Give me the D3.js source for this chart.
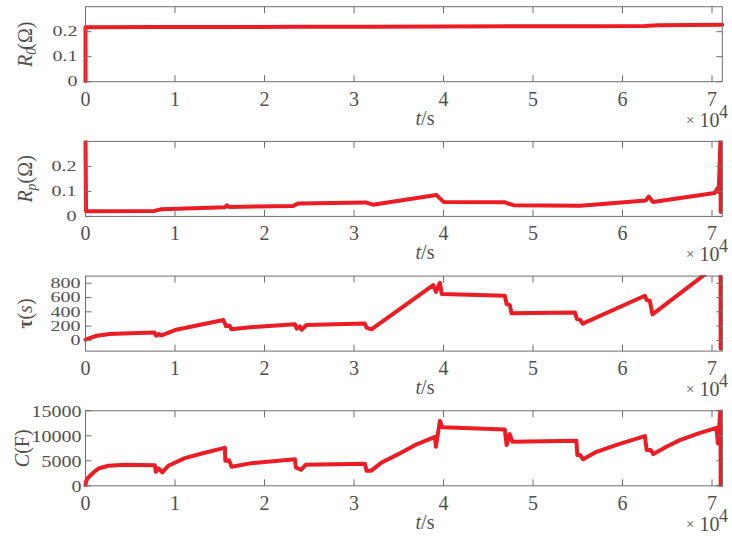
<!DOCTYPE html>
<html>
<head>
<meta charset="utf-8">
<script src="https://cdn.jsdelivr.net/npm/d3@7/dist/d3.min.js"></script>
<style>
  html, body { margin: 0; padding: 0; background: #fff; }
  svg { display: block; }
  text { font-family: "Liberation Serif", "Times New Roman", serif; fill: #505050; }
</style>
</head>
<body>
<svg id="chart" width="732" height="536"></svg>
<script>
// Time axis tick labels (in units of 10^4 s)
const xTickLabels = [0, 1, 2, 3, 4, 5, 6, 7];
const timeMax = 71150;

// Ohmic resistance R0 (Ω)
const r0Time  = [0, 0, 300, 8000, 16000, 24000, 32000, 40000, 48000, 56000, 62500, 64000, 71150];
const r0Value = [0, 0.218, 0.218, 0.2185, 0.219, 0.2195, 0.220, 0.221, 0.2215, 0.222, 0.2225, 0.226, 0.228];
const r0Ticks = [0, 0.1, 0.2];
const r0Domain = [0, 0.3];

// Polarization resistance Rp (Ω)
const rpTime  = [0, 60, 7700, 8500, 15600, 15800, 16100, 23200, 23800, 31300, 32100, 39200, 40000,
                 46800, 47800, 55300, 62600, 62950, 63400, 70300, 70600, 70750, 70950, 70970];
const rpValue = [0.31, 0.021, 0.022, 0.029, 0.037, 0.044, 0.038, 0.042, 0.052, 0.056, 0.047, 0.086, 0.058,
                 0.057, 0.045, 0.043, 0.064, 0.079, 0.058, 0.094, 0.112, 0.098, 0.31, 0.018];
const rpTicks = [0, 0.1, 0.2];
const rpDomain = [0, 0.3];

// Time constant τ (s)
const tauTime  = [0, 300, 1250, 2700, 5000, 7700, 7900, 8200, 8500, 10000, 15400, 15700, 16100, 16300,
                  18400, 23400, 23600, 23950, 24150, 24700, 31200, 31400, 31950, 38850, 39150, 39600, 39800,
                  46850, 47050, 47400, 47600, 54700, 54900, 55250, 55550, 62500, 62700, 63050, 63350,
                  68950, 70950, 70970];
const tauValue = [10, 25, 65, 90, 100, 110, 65, 90, 70, 145, 285, 200, 205, 155,
                  185, 225, 165, 195, 150, 215, 235, 180, 155, 775, 680, 805, 650,
                  625, 510, 495, 380, 390, 300, 290, 235, 625, 565, 555, 365,
                  900, 1090, -115];
const tauTicks = [0, 200, 400, 600, 800];
const tauDomain = [-150, 900];

// Capacitance C (F)
const cTime  = [0, 60, 300, 900, 1450, 2550, 4400, 7750, 7850, 8200, 8580, 9250, 11100, 13000, 15400, 15580,
                15620, 16030, 16330, 18560, 23400, 23500, 24070, 24600, 31230, 31400, 31900, 33100, 34950,
                36800, 39050, 39150, 39600, 39870, 46850, 47050, 47400, 47700, 54850, 54950, 55250, 55600,
                57100, 59500, 62500, 62700, 63150, 63450, 64800, 66400, 68500, 70500, 70650, 70800, 70950, 70970];
const cValue = [0, 900, 1670, 2670, 3470, 4000, 4200, 4130, 2800, 3470, 2670, 4000, 5530, 6470, 7530, 7600,
                5000, 5130, 3800, 4530, 5330, 3670, 3200, 4200, 4400, 3000, 3000, 4670, 6330,
                8130, 9800, 7800, 13000, 11700, 11270, 8140, 10330, 8800, 9000, 6150, 6150, 5300,
                6800, 8300, 9950, 7150, 7150, 6340, 7700, 9140, 10500, 11600, 8470, 11800, 15600, -300];
const cTicks = [0, 5000, 10000, 15000];
const cDomain = [0, 15000];

const svg = d3.select("#chart");
const left = 85.5, right = 722.3;
const panelTop0 = 6.7, panelStep = 134.7, panelH = 75;
const lineColor = "#ec1c24";
const axisColor = "#6e6e6e";
const tickLen = 6.5;

const x = d3.scaleLinear().domain([0, timeMax]).range([left, right]);

function labelR0(t) {
  t.append("tspan").attr("font-style", "italic").text("R");
  t.append("tspan").attr("font-style", "italic").attr("font-size", 14).attr("dy", 4).text("0");
  t.append("tspan").attr("dy", -4).attr("dx", -2).text("(Ω)");
}
function labelRp(t) {
  t.append("tspan").attr("font-style", "italic").text("R");
  t.append("tspan").attr("font-style", "italic").attr("font-size", 14).attr("dy", 4).text("p");
  t.append("tspan").attr("dy", -4).text("(Ω)");
}
function labelTau(t) {
  t.append("tspan").attr("font-weight", "bold").text("τ");
  t.append("tspan").text("(");
  t.append("tspan").attr("font-style", "italic").text("s");
  t.append("tspan").text(")");
}
function labelC(t) {
  t.append("tspan").attr("font-style", "italic").text("C");
  t.append("tspan").text("(F)");
}

const panels = [
  { time: r0Time,  value: r0Value,  domain: r0Domain,  ticks: r0Ticks,  label: labelR0,  labelX: 25, squash: 0.68, gap: 8 },
  { time: rpTime,  value: rpValue,  domain: rpDomain,  ticks: rpTicks,  label: labelRp,  labelX: 25, squash: 0.72, gap: 9 },
  { time: tauTime, value: tauValue, domain: tauDomain, ticks: tauTicks, label: labelTau, labelX: 25, squash: 0.68, gap: 5 },
  { time: cTime,   value: cValue,   domain: cDomain,   ticks: cTicks,   label: labelC,   labelX: 22, squash: 0.86, gap: 4 }
];

panels.forEach((p, i) => {
  const top = panelTop0 + i * panelStep;
  const bottom = top + panelH;
  const y = d3.scaleLinear().domain(p.domain).range([bottom, top]);
  const g = svg.append("g");

  // clip region for the data line
  const clipId = "clip" + i;
  svg.append("clipPath").attr("id", clipId)
    .append("rect")
    .attr("x", left - 3).attr("y", top - 1)
    .attr("width", right - left + 6).attr("height", panelH + 2);

  // data line
  const pts = p.time.map((t, k) => [t, p.value[k]]);
  const line = d3.line().x(d => x(d[0])).y(d => y(d[1]));
  g.append("path")
    .datum(pts)
    .attr("clip-path", `url(#${clipId})`)
    .attr("d", line)
    .attr("fill", "none")
    .attr("stroke", lineColor)
    .attr("stroke-width", 4)
    .attr("stroke-linejoin", "round")
    .attr("stroke-linecap", "round");

  // box
  g.append("rect")
    .attr("x", left).attr("y", top)
    .attr("width", right - left).attr("height", panelH)
    .attr("fill", "none").attr("stroke", axisColor).attr("stroke-width", 1);

  // x ticks (inward, top and bottom)
  xTickLabels.forEach(v => {
    const px = x(v * 1e4);
    g.append("line").attr("x1", px).attr("x2", px).attr("y1", bottom).attr("y2", bottom - tickLen)
      .attr("stroke", axisColor);
    g.append("line").attr("x1", px).attr("x2", px).attr("y1", top).attr("y2", top + tickLen)
      .attr("stroke", axisColor);
    g.append("text").attr("x", px).attr("y", bottom + 24)
      .attr("text-anchor", "middle").attr("font-size", 20).text(v);
  });

  // y ticks (inward, left and right)
  p.ticks.forEach(v => {
    const py = y(v);
    g.append("line").attr("x1", left).attr("x2", left + 6).attr("y1", py).attr("y2", py)
      .attr("stroke", axisColor);
    g.append("line").attr("x1", right).attr("x2", right - 6).attr("y1", py).attr("y2", py)
      .attr("stroke", axisColor);
    g.append("g")
      .attr("transform", `translate(${left - p.gap},${py}) scale(1,${p.squash})`)
      .append("text")
      .attr("text-anchor", "end").attr("dy", "0.35em").attr("font-size", 20)
      .text(String(v));
  });

  // y label
  const yl = g.append("text")
    .attr("transform", `translate(${p.labelX},${(top + bottom) / 2}) rotate(-90)`)
    .attr("text-anchor", "middle").attr("dy", "0.35em").attr("font-size", 20);
  p.label(yl);

  // x label
  const xl = g.append("text").attr("x", 425).attr("y", bottom + 43)
    .attr("text-anchor", "middle").attr("font-size", 20);
  xl.append("tspan").attr("font-style", "italic").text("t");
  xl.append("tspan").text("/s");

  // exponent
  g.append("text").attr("x", 686).attr("y", bottom + 43).attr("font-size", 15).text("×");
  g.append("text").attr("x", 699.5).attr("y", bottom + 45).attr("font-size", 20).text("10");
  g.append("text").attr("x", 719).attr("y", bottom + 36).attr("font-size", 18).text("4");
});
</script>
</body>
</html>
